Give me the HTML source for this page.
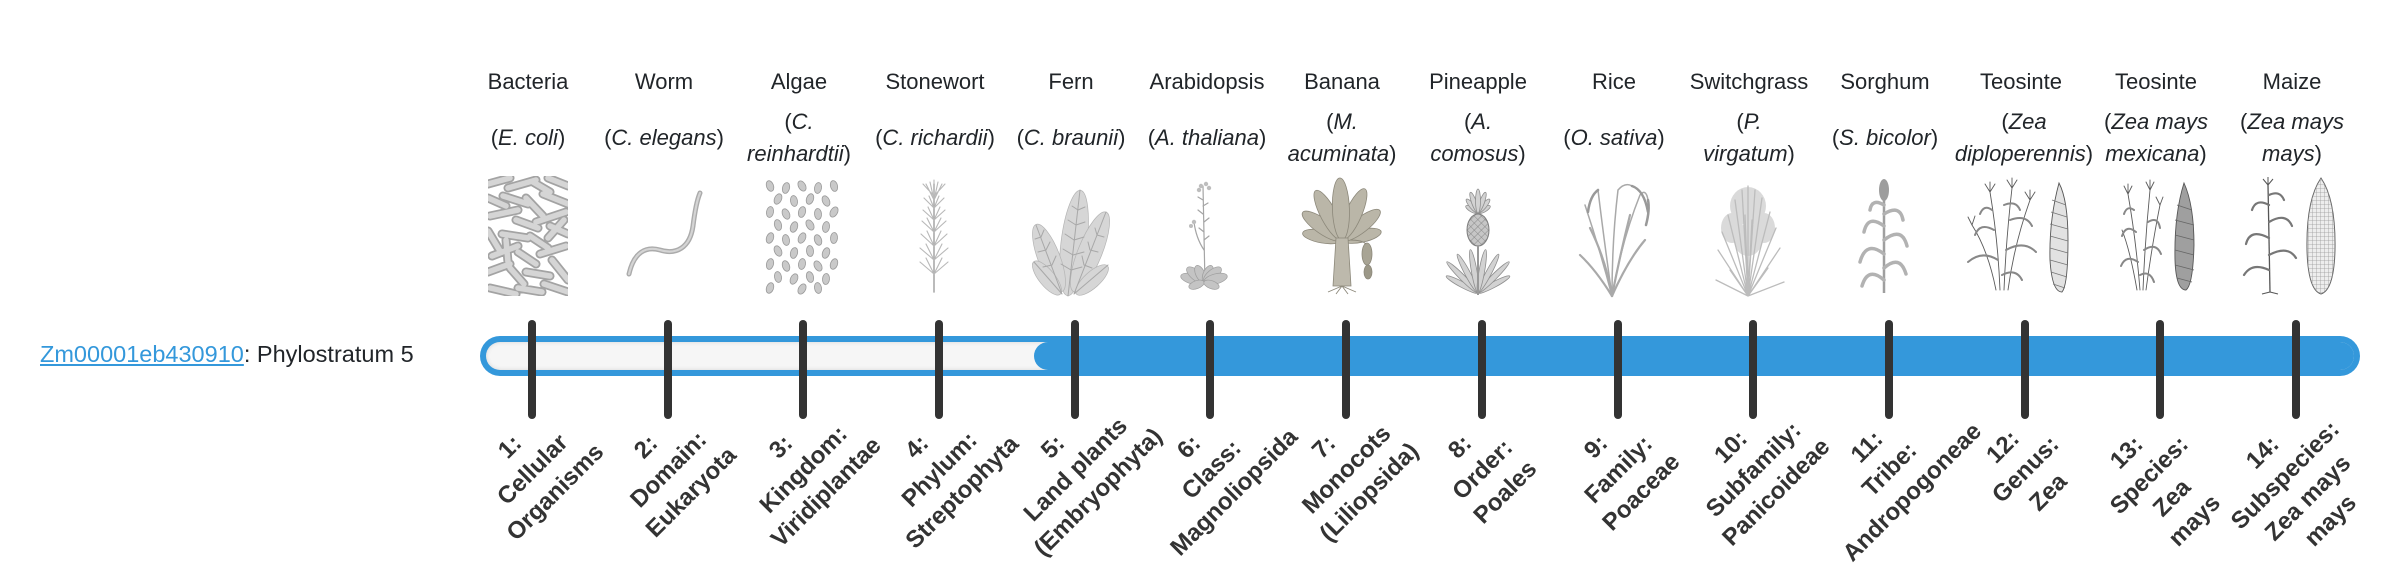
<!DOCTYPE html>
<html><head><meta charset="utf-8">
<style>
html,body{margin:0;padding:0;background:#fff;}
body{width:2400px;height:580px;position:relative;overflow:hidden;font-family:"Liberation Sans",Arial,sans-serif;color:#212529;}
.hd{position:absolute;top:66px;transform:translateX(-50%);white-space:nowrap;text-align:center;font-size:22px;line-height:32px;}
.sp{position:absolute;transform:translateX(-50%);white-space:nowrap;text-align:center;font-size:22px;line-height:32px;}
.s1{top:122px;}
.s2{top:106px;}
.lb{position:absolute;white-space:nowrap;text-align:center;font-weight:bold;font-size:24px;line-height:32px;color:#333;transform:translate(-50%,-50%) rotate(-45deg);}
.tk{position:absolute;top:320px;width:8px;height:99px;margin-left:-4px;background:#333;border-radius:4px;}
svg{position:absolute;left:0;top:0;}
</style></head><body>

<svg width="2400" height="580" viewBox="0 0 2400 580">
<defs>
<clipPath id="cb"><rect x="488" y="176" width="80" height="120"/></clipPath>
<pattern id="ph" width="5" height="5" patternUnits="userSpaceOnUse" patternTransform="rotate(45)"><path d="M0,0L0,5M0,0L5,0" stroke="#7a7a7a" stroke-width="0.8"/></pattern>
<pattern id="pk" width="4" height="4" patternUnits="userSpaceOnUse"><path d="M0,0L0,4M0,0L4,0" stroke="#9a9a9a" stroke-width="0.8"/></pattern>
</defs>

<!-- Bacteria -->
<g clip-path="url(#cb)" stroke-linecap="round" fill="none">
<path stroke="#a3a3a3" stroke-width="9" d="M488,184L510,178M508,188L536,180M533,182L550,192M548,178L568,186M488,198L506,206M503,196L528,204M526,198L543,216M543,194L568,204M490,216L518,210M516,220L538,228M536,222L566,212M488,231L500,251M502,234L528,238M530,236L548,248M550,226L568,234M492,256L518,246M518,252L536,264M540,254L566,246M488,272L510,264M510,268L524,284M526,272L550,276M552,260L568,280M490,288L516,294M518,288L542,292M544,284L568,292M506,240L508,262M548,238L564,220"/>
<path stroke="#d5d5d5" stroke-width="5.5" d="M488,184L510,178M508,188L536,180M533,182L550,192M548,178L568,186M488,198L506,206M503,196L528,204M526,198L543,216M543,194L568,204M490,216L518,210M516,220L538,228M536,222L566,212M488,231L500,251M502,234L528,238M530,236L548,248M550,226L568,234M492,256L518,246M518,252L536,264M540,254L566,246M488,272L510,264M510,268L524,284M526,272L550,276M552,260L568,280M490,288L516,294M518,288L542,292M544,284L568,292M506,240L508,262M548,238L564,220"/>
</g>

<!-- Worm -->
<path d="M629,274 C634,252 646,246 660,250 C676,255 690,248 693,226 C695,210 697,200 700,193" fill="none" stroke="#ababab" stroke-width="5" stroke-linecap="round"/>
<path d="M629,274 C634,252 646,246 660,250 C676,255 690,248 693,226 C695,210 697,200 700,193" fill="none" stroke="#d4d4d4" stroke-width="2.2" stroke-linecap="round"/>

<!-- Algae -->
<g fill="#c9c9c9" stroke="#9a9a9a" stroke-width="0.8">
<ellipse cx="770" cy="186" rx="3.5" ry="5.5" transform="rotate(-20 770 186)"/>
<ellipse cx="786" cy="188" rx="3.5" ry="5.5" transform="rotate(15 786 188)"/>
<ellipse cx="802" cy="186" rx="3.5" ry="5.5" transform="rotate(-30 802 186)"/>
<ellipse cx="818" cy="188" rx="3.5" ry="5.5" transform="rotate(10 818 188)"/>
<ellipse cx="834" cy="186" rx="3.5" ry="5.5" transform="rotate(-15 834 186)"/>
<ellipse cx="778" cy="199" rx="3.5" ry="5.5" transform="rotate(25 778 199)"/>
<ellipse cx="794" cy="201" rx="3.5" ry="5.5" transform="rotate(-10 794 201)"/>
<ellipse cx="810" cy="199" rx="3.5" ry="5.5" transform="rotate(20 810 199)"/>
<ellipse cx="826" cy="201" rx="3.5" ry="5.5" transform="rotate(-25 826 201)"/>
<ellipse cx="770" cy="212" rx="3.5" ry="5.5" transform="rotate(10 770 212)"/>
<ellipse cx="786" cy="214" rx="3.5" ry="5.5" transform="rotate(-25 786 214)"/>
<ellipse cx="802" cy="212" rx="3.5" ry="5.5" transform="rotate(15 802 212)"/>
<ellipse cx="818" cy="214" rx="3.5" ry="5.5" transform="rotate(-5 818 214)"/>
<ellipse cx="834" cy="212" rx="3.5" ry="5.5" transform="rotate(30 834 212)"/>
<ellipse cx="778" cy="225" rx="3.5" ry="5.5" transform="rotate(-15 778 225)"/>
<ellipse cx="794" cy="227" rx="3.5" ry="5.5" transform="rotate(20 794 227)"/>
<ellipse cx="810" cy="225" rx="3.5" ry="5.5" transform="rotate(-30 810 225)"/>
<ellipse cx="826" cy="227" rx="3.5" ry="5.5" transform="rotate(10 826 227)"/>
<ellipse cx="770" cy="238" rx="3.5" ry="5.5" transform="rotate(20 770 238)"/>
<ellipse cx="786" cy="240" rx="3.5" ry="5.5" transform="rotate(-10 786 240)"/>
<ellipse cx="802" cy="238" rx="3.5" ry="5.5" transform="rotate(25 802 238)"/>
<ellipse cx="818" cy="240" rx="3.5" ry="5.5" transform="rotate(-20 818 240)"/>
<ellipse cx="834" cy="238" rx="3.5" ry="5.5" transform="rotate(5 834 238)"/>
<ellipse cx="778" cy="251" rx="3.5" ry="5.5" transform="rotate(-25 778 251)"/>
<ellipse cx="794" cy="253" rx="3.5" ry="5.5" transform="rotate(15 794 253)"/>
<ellipse cx="810" cy="251" rx="3.5" ry="5.5" transform="rotate(-5 810 251)"/>
<ellipse cx="826" cy="253" rx="3.5" ry="5.5" transform="rotate(20 826 253)"/>
<ellipse cx="770" cy="264" rx="3.5" ry="5.5" transform="rotate(15 770 264)"/>
<ellipse cx="786" cy="266" rx="3.5" ry="5.5" transform="rotate(-20 786 266)"/>
<ellipse cx="802" cy="264" rx="3.5" ry="5.5" transform="rotate(10 802 264)"/>
<ellipse cx="818" cy="266" rx="3.5" ry="5.5" transform="rotate(-30 818 266)"/>
<ellipse cx="834" cy="264" rx="3.5" ry="5.5" transform="rotate(20 834 264)"/>
<ellipse cx="778" cy="277" rx="3.5" ry="5.5" transform="rotate(-10 778 277)"/>
<ellipse cx="794" cy="279" rx="3.5" ry="5.5" transform="rotate(25 794 279)"/>
<ellipse cx="810" cy="277" rx="3.5" ry="5.5" transform="rotate(-15 810 277)"/>
<ellipse cx="826" cy="279" rx="3.5" ry="5.5" transform="rotate(5 826 279)"/>
<ellipse cx="770" cy="288" rx="3.5" ry="5.5" transform="rotate(20 770 288)"/>
<ellipse cx="802" cy="289" rx="3.5" ry="5.5" transform="rotate(30 802 289)"/>
<ellipse cx="818" cy="288" rx="3.5" ry="5.5" transform="rotate(-10 818 288)"/>
</g>

<!-- Stonewort -->
<g fill="none" stroke="#b8b8b8" stroke-width="1.1" stroke-linecap="round">
<path d="M934,292L934,184" stroke-width="1.6" stroke="#aaaaaa"/>
<path d="M934,274l-14,-12M934,274l14,-12M934,274l-8,-16M934,274l8,-16M934,260l-14,-12M934,260l14,-12M934,260l-8,-16M934,260l8,-16M934,246l-13,-12M934,246l13,-12M934,246l-7,-15M934,246l7,-15M934,232l-12,-11M934,232l12,-11M934,232l-7,-14M934,232l7,-14M934,220l-11,-10M934,220l11,-10M934,220l-6,-13M934,220l6,-13M934,208l-10,-10M934,208l10,-10M934,208l-5,-12M934,208l5,-12M934,200l-8,-16M934,200l-4,-18M934,200l0,-20M934,200l4,-18M934,200l8,-16M934,196l-11,-12M934,196l11,-12"/>
</g>

<!-- Fern -->
<g fill="#d6d6d6" stroke="#b4b4b4" stroke-width="0.7">
<ellipse cx="1074" cy="243" rx="53" ry="13" transform="rotate(-83 1074 243)"/>
<ellipse cx="1049" cy="258" rx="36" ry="11" transform="rotate(-111 1049 258)"/>
<ellipse cx="1090" cy="252" rx="43" ry="12" transform="rotate(-68 1090 252)"/>
<ellipse cx="1047" cy="278" rx="21" ry="8" transform="rotate(-129 1047 278)"/>
<ellipse cx="1092" cy="280" rx="21" ry="8" transform="rotate(-42 1092 280)"/>
</g>
<g fill="none" stroke="#a8a8a8" stroke-width="1" stroke-linecap="round">
<path d="M1068,296L1080,190M1062,294L1036,225M1074,294L1106,212M1062,294L1034,262M1074,294L1108,265"/>
<path d="M1071,270l-10,-6M1071,270l11,-3M1073,255l-10,-6M1073,255l11,-3M1074,240l-9,-6M1074,240l10,-3M1076,225l-8,-5M1076,225l9,-3M1078,210l-6,-4M1078,210l7,-3M1052,265l-9,2M1052,265l4,-9M1046,250l-8,2M1046,250l4,-8M1041,237l-6,2M1041,237l3,-7M1084,265l8,3M1084,265l-2,-9M1090,250l8,2M1090,250l-2,-8M1097,235l7,2M1097,235l-2,-7"/>
</g>

<!-- Arabidopsis -->
<g fill="none" stroke="#a5a5a5" stroke-width="1.2" stroke-linecap="round">
<path d="M1205,284L1203,186M1204,250Q1196,238 1194,222M1203,200l-5,-3M1203,206l5,-3M1203,214l-5,-4M1204,222l5,-4M1204,232l-5,-4M1204,240l5,-4"/>
</g>
<g fill="#bdbdbd">
<circle cx="1201" cy="186" r="2.2"/><circle cx="1206" cy="184" r="2.2"/><circle cx="1209" cy="188" r="2.2"/><circle cx="1199" cy="190" r="2.2"/><circle cx="1194" cy="222" r="2.2"/><circle cx="1191" cy="226" r="2"/>
</g>
<g fill="#c4c4c4" stroke="#9e9e9e" stroke-width="0.7">
<ellipse cx="1192.4" cy="278.9" rx="12" ry="5" transform="rotate(-165 1192.4 278.9)"/>
<ellipse cx="1195.6" cy="274.9" rx="11" ry="5" transform="rotate(-140 1195.6 274.9)"/>
<ellipse cx="1200.2" cy="273.8" rx="9" ry="4.5" transform="rotate(-115 1200.2 273.8)"/>
<ellipse cx="1207.8" cy="273.8" rx="9" ry="4.5" transform="rotate(-65 1207.8 273.8)"/>
<ellipse cx="1212.4" cy="274.9" rx="11" ry="5" transform="rotate(-40 1212.4 274.9)"/>
<ellipse cx="1215.6" cy="278.9" rx="12" ry="5" transform="rotate(-15 1215.6 278.9)"/>
<ellipse cx="1196.5" cy="284.7" rx="8" ry="4" transform="rotate(160 1196.5 284.7)"/>
<ellipse cx="1211.5" cy="284.7" rx="8" ry="4" transform="rotate(20 1211.5 284.7)"/>
</g>

<!-- Banana -->
<g fill="#bab6a8" stroke="#8c887a" stroke-width="0.8">
<ellipse cx="1322.3" cy="236.5" rx="20" ry="6.5" transform="rotate(-170 1322.3 236.5)"/>
<ellipse cx="1361.6" cy="235.8" rx="20" ry="6.5" transform="rotate(-12 1361.6 235.8)"/>
<ellipse cx="1322.3" cy="226.2" rx="24" ry="7.5" transform="rotate(-145 1322.3 226.2)"/>
<ellipse cx="1360.9" cy="225.2" rx="24" ry="7.5" transform="rotate(-38 1360.9 225.2)"/>
<ellipse cx="1328.9" cy="215.3" rx="28" ry="8" transform="rotate(-118 1328.9 215.3)"/>
<ellipse cx="1353.4" cy="214.4" rx="28" ry="8" transform="rotate(-66 1353.4 214.4)"/>
<ellipse cx="1340.9" cy="209" rx="31" ry="8.5" transform="rotate(-92 1340.9 209)"/>
<path d="M1336,238L1348,238L1351,286L1333,286Z" fill="#bdb9ac"/>
<ellipse cx="1367" cy="254" rx="5" ry="11" fill="#a8a494"/>
<ellipse cx="1368" cy="272" rx="4" ry="7" fill="#9c9888"/>
</g>
<path d="M1350,240Q1362,240 1366,244M1342,286l-14,6M1342,286l-6,8M1342,286l6,8M1342,286l14,6" stroke="#8c887a" stroke-width="0.9" fill="none"/>

<!-- Pineapple -->
<g fill="#d2d2d2" stroke="#8f8f8f" stroke-width="0.8">
<ellipse cx="1462.1" cy="284.6" rx="18" ry="2.8" transform="rotate(-152 1462.1 284.6)"/>
<ellipse cx="1493.9" cy="284.6" rx="18" ry="2.8" transform="rotate(-28 1493.9 284.6)"/>
<ellipse cx="1462.4" cy="277.4" rx="22" ry="2.8" transform="rotate(-135 1462.4 277.4)"/>
<ellipse cx="1493.6" cy="277.4" rx="22" ry="2.8" transform="rotate(-45 1493.6 277.4)"/>
<ellipse cx="1467.7" cy="273.6" rx="22" ry="2.8" transform="rotate(-118 1467.7 273.6)"/>
<ellipse cx="1488.3" cy="273.6" rx="22" ry="2.8" transform="rotate(-62 1488.3 273.6)"/>
<ellipse cx="1474.2" cy="271.3" rx="22" ry="2.8" transform="rotate(-100 1474.2 271.3)"/>
<ellipse cx="1481.8" cy="271.3" rx="22" ry="2.8" transform="rotate(-80 1481.8 271.3)"/>
<ellipse cx="1471.9" cy="209.5" rx="7" ry="2.5" transform="rotate(-150 1471.9 209.5)"/>
<ellipse cx="1484.1" cy="209.5" rx="7" ry="2.5" transform="rotate(-30 1484.1 209.5)"/>
<ellipse cx="1472.2" cy="206.1" rx="9" ry="2.5" transform="rotate(-130 1472.2 206.1)"/>
<ellipse cx="1483.8" cy="206.1" rx="9" ry="2.5" transform="rotate(-50 1483.8 206.1)"/>
<ellipse cx="1474.2" cy="202.7" rx="11" ry="2.5" transform="rotate(-110 1474.2 202.7)"/>
<ellipse cx="1481.8" cy="202.7" rx="11" ry="2.5" transform="rotate(-70 1481.8 202.7)"/>
<ellipse cx="1478" cy="201" rx="12" ry="2.5" transform="rotate(-90 1478 201)"/>
</g>
<ellipse cx="1478" cy="230" rx="11" ry="16" fill="#c6c6c6" stroke="#7d7d7d" stroke-width="1"/>
<ellipse cx="1478" cy="230" rx="11" ry="16" fill="url(#ph)"/>
<path d="M1478,246L1478,295" stroke="#999" stroke-width="2"/>

<!-- Rice -->
<g fill="none" stroke="#a9a9a9" stroke-width="1.5" stroke-linecap="round">
<path d="M1612,296Q1600,250 1585,205"/>
<path d="M1612,296Q1604,240 1598,190"/>
<path d="M1612,296Q1612,240 1618,190Q1625,182 1632,186"/>
<path d="M1612,296Q1622,240 1640,195Q1646,188 1648,200"/>
<path d="M1612,296Q1628,260 1645,240" stroke-width="2.2"/>
<path d="M1612,296Q1596,270 1580,255" stroke-width="2.2"/>
<path d="M1612,296Q1606,260 1590,228" stroke-width="2.2"/>
<path d="M1612,296Q1620,255 1630,215" stroke-width="2.2"/>
<path d="M1632,186Q1644,190 1648,212M1598,190Q1590,196 1588,212M1648,200Q1650,210 1646,225" stroke="#999" stroke-width="2.5"/>
</g>

<!-- Switchgrass -->
<g fill="#d4d4d4" opacity="0.85">
<ellipse cx="1748" cy="206" rx="18" ry="19"/>
<ellipse cx="1732" cy="228" rx="11" ry="15"/>
<ellipse cx="1764" cy="228" rx="11" ry="15"/>
<ellipse cx="1748" cy="240" rx="14" ry="16"/>
</g>
<g fill="none" stroke="#bcbcbc" stroke-width="1.3" stroke-linecap="round">
<path d="M1748,296L1718,250M1748,296L1722,232M1748,296L1728,215M1748,296L1735,200M1748,296L1742,190M1748,296L1748,186M1748,296L1755,190M1748,296L1762,198M1748,296L1770,212M1748,296L1776,228M1748,296L1780,248M1748,296L1730,270M1748,296L1768,268M1748,296L1745,215M1748,296L1752,220M1748,296L1716,280M1748,296L1784,282"/>
</g>

<!-- Sorghum -->
<path d="M1884,293L1884,196" stroke="#9f9f9f" stroke-width="2.5"/>
<ellipse cx="1884" cy="190" rx="5" ry="11" fill="#9d9d9d"/>
<g fill="none" stroke="#b2b2b2" stroke-width="3.5" stroke-linecap="round">
<path d="M1884,280Q1868,266 1862,286M1884,268Q1900,254 1906,274M1884,254Q1866,240 1860,262M1884,240Q1902,226 1907,246M1884,226Q1868,214 1864,232M1884,214Q1900,204 1903,220M1884,205Q1872,198 1870,210"/>
</g>

<!-- Teosinte 1 -->
<g fill="none" stroke="#5a5a5a" stroke-width="0.9" stroke-linecap="round">
<path d="M2000,290Q1998,240 1990,192M2004,290Q2006,240 2012,188M2008,290Q2014,245 2030,200M1996,290Q1988,250 1972,225"/>
<path d="M1990,192l-5,-8M1990,192l0,-10M1990,192l5,-8M2012,188l-5,-8M2012,188l0,-10M2012,188l5,-8M2030,200l-5,-8M2030,200l0,-10M2030,200l5,-8M1972,225l-4,-8M1972,225l3,-9"/>
</g>
<g fill="none" stroke="#888" stroke-width="2" stroke-linecap="round">
<path d="M1998,260Q1982,250 1968,262M2006,250Q2024,240 2036,252M1994,230Q1980,222 1975,235M2010,220Q2026,214 2032,226M2002,275Q2016,268 2022,280M1992,210Q1984,204 1980,214M2004,205Q2016,200 2020,210"/>
</g>
<path d="M2059,183Q2068,200 2068,240Q2068,285 2062,292Q2052,292 2050,260Q2049,220 2059,183Z" fill="#e2e2e2" stroke="#555" stroke-width="0.9"/>
<path d="M2052,200l14,5M2051,212l16,5M2050,224l18,5M2050,236l18,5M2050,248l18,5M2050,260l18,5M2051,272l16,5M2053,284l12,4" stroke="#777" stroke-width="0.8"/>

<!-- Teosinte 2 -->
<g fill="none" stroke="#5a5a5a" stroke-width="0.9" stroke-linecap="round">
<path d="M2140,290Q2136,240 2128,194M2143,290Q2145,240 2150,190M2146,290Q2152,245 2160,205M2137,290Q2130,250 2122,230"/>
<path d="M2128,194l-4,-8M2128,194l0,-10M2128,194l4,-8M2150,190l-4,-8M2150,190l0,-10M2150,190l4,-8M2160,205l-4,-8M2160,205l3,-8"/>
</g>
<g fill="none" stroke="#888" stroke-width="2" stroke-linecap="round">
<path d="M2138,262Q2126,254 2121,266M2144,250Q2156,242 2161,254M2136,232Q2126,224 2122,236M2148,222Q2158,216 2160,228M2140,275Q2150,270 2154,282M2134,210Q2127,205 2124,214"/>
</g>
<path d="M2184,183Q2194,205 2194,245Q2193,285 2186,290Q2176,290 2175,260Q2174,215 2184,183Z" fill="#9f9f9f" stroke="#555" stroke-width="0.9"/>
<path d="M2177,205l15,5M2175,220l19,5M2175,235l19,5M2175,250l19,5M2175,265l19,5M2177,278l15,4" stroke="#666" stroke-width="0.8"/>

<!-- Maize -->
<path d="M2270,292L2268,185" stroke="#555" stroke-width="1.3" fill="none"/>
<path d="M2268,185l-5,-6M2268,185l0,-8M2268,185l5,-6M2270,292l-8,2M2270,292l8,2" stroke="#555" stroke-width="1" fill="none"/>
<g fill="none" stroke="#777" stroke-width="2.2" stroke-linecap="round">
<path d="M2269,270Q2252,262 2244,275M2269,255Q2288,245 2296,258M2269,238Q2250,228 2246,244M2269,222Q2286,212 2292,226M2269,205Q2256,198 2252,210M2269,195Q2280,190 2284,200"/>
</g>
<path d="M2321,178Q2336,200 2335,250Q2334,290 2321,294Q2308,290 2307,250Q2306,200 2321,178Z" fill="#ededed" stroke="#666" stroke-width="1"/>
<path d="M2321,178Q2336,200 2335,250Q2334,290 2321,294Q2308,290 2307,250Q2306,200 2321,178Z" fill="url(#pk)"/>
</svg>

<!-- Left label -->
<div style="position:absolute;left:40px;top:338px;font-size:23.5px;line-height:32px;white-space:nowrap;"><span style="color:#3498db;text-decoration:underline;">Zm00001eb430910</span>: Phylostratum 5</div>

<!-- Bar -->
<div style="position:absolute;left:480px;top:336px;width:1880px;height:40px;border-radius:20px;background:#3498db;"></div>
<div style="position:absolute;left:486px;top:342px;width:1868px;height:28px;border-radius:14px;background:#f6f6f6;box-shadow:inset 0 0 5px rgba(0,0,0,.13);"></div>
<div style="position:absolute;left:1034px;top:342px;width:1320px;height:28px;border-radius:14px;background:#3498db;"></div>

<!-- Ticks -->
<div class="tk" style="left:532px"></div>
<div class="tk" style="left:668px"></div>
<div class="tk" style="left:803px"></div>
<div class="tk" style="left:939px"></div>
<div class="tk" style="left:1075px"></div>
<div class="tk" style="left:1210px"></div>
<div class="tk" style="left:1346px"></div>
<div class="tk" style="left:1482px"></div>
<div class="tk" style="left:1618px"></div>
<div class="tk" style="left:1753px"></div>
<div class="tk" style="left:1889px"></div>
<div class="tk" style="left:2025px"></div>
<div class="tk" style="left:2160px"></div>
<div class="tk" style="left:2296px"></div>

<!-- Headers -->
<div class="hd" style="left:528px">Bacteria</div>
<div class="hd" style="left:664px">Worm</div>
<div class="hd" style="left:799px">Algae</div>
<div class="hd" style="left:935px">Stonewort</div>
<div class="hd" style="left:1071px">Fern</div>
<div class="hd" style="left:1207px">Arabidopsis</div>
<div class="hd" style="left:1342px">Banana</div>
<div class="hd" style="left:1478px">Pineapple</div>
<div class="hd" style="left:1614px">Rice</div>
<div class="hd" style="left:1749px">Switchgrass</div>
<div class="hd" style="left:1885px">Sorghum</div>
<div class="hd" style="left:2021px">Teosinte</div>
<div class="hd" style="left:2156px">Teosinte</div>
<div class="hd" style="left:2292px">Maize</div>

<!-- Species -->
<div class="sp s1" style="left:528px">(<i>E. coli</i>)</div>
<div class="sp s1" style="left:664px">(<i>C. elegans</i>)</div>
<div class="sp s2" style="left:799px">(<i>C.</i><br><i>reinhardtii</i>)</div>
<div class="sp s1" style="left:935px">(<i>C. richardii</i>)</div>
<div class="sp s1" style="left:1071px">(<i>C. braunii</i>)</div>
<div class="sp s1" style="left:1207px">(<i>A. thaliana</i>)</div>
<div class="sp s2" style="left:1342px">(<i>M.</i><br><i>acuminata</i>)</div>
<div class="sp s2" style="left:1478px">(<i>A.</i><br><i>comosus</i>)</div>
<div class="sp s1" style="left:1614px">(<i>O. sativa</i>)</div>
<div class="sp s2" style="left:1749px">(<i>P.</i><br><i>virgatum</i>)</div>
<div class="sp s1" style="left:1885px">(<i>S. bicolor</i>)</div>
<div class="sp s2" style="left:2024px">(<i>Zea</i><br><i>diploperennis</i>)</div>
<div class="sp s2" style="left:2156px">(<i>Zea mays</i><br><i>mexicana</i>)</div>
<div class="sp s2" style="left:2292px">(<i>Zea mays</i><br><i>mays</i>)</div>

<!-- Labels -->
<div class="lb" style="left:533px;top:470px">1:<br>Cellular<br>Organisms</div>
<div class="lb" style="left:669px;top:470px">2:<br>Domain:<br>Eukaryota</div>
<div class="lb" style="left:804px;top:470px">3:<br>Kingdom:<br>Viridiplantae</div>
<div class="lb" style="left:940px;top:470px">4:<br>Phylum:<br>Streptophyta</div>
<div class="lb" style="left:1076px;top:470px">5:<br>Land plants<br>(Embryophyta)</div>
<div class="lb" style="left:1212px;top:470px">6:<br>Class:<br>Magnoliopsida</div>
<div class="lb" style="left:1347px;top:470px">7:<br>Monocots<br>(Liliopsida)</div>
<div class="lb" style="left:1483px;top:470px">8:<br>Order:<br>Poales</div>
<div class="lb" style="left:1619px;top:470px">9:<br>Family:<br>Poaceae</div>
<div class="lb" style="left:1754px;top:470px">10:<br>Subfamily:<br>Panicoideae</div>
<div class="lb" style="left:1890px;top:470px">11:<br>Tribe:<br>Andropogoneae</div>
<div class="lb" style="left:2026px;top:470px">12:<br>Genus:<br>Zea</div>
<div class="lb" style="left:2161px;top:487px">13:<br>Species:<br>Zea<br>mays</div>
<div class="lb" style="left:2297px;top:487px">14:<br>Subspecies:<br>Zea mays<br>mays</div>

</body></html>
